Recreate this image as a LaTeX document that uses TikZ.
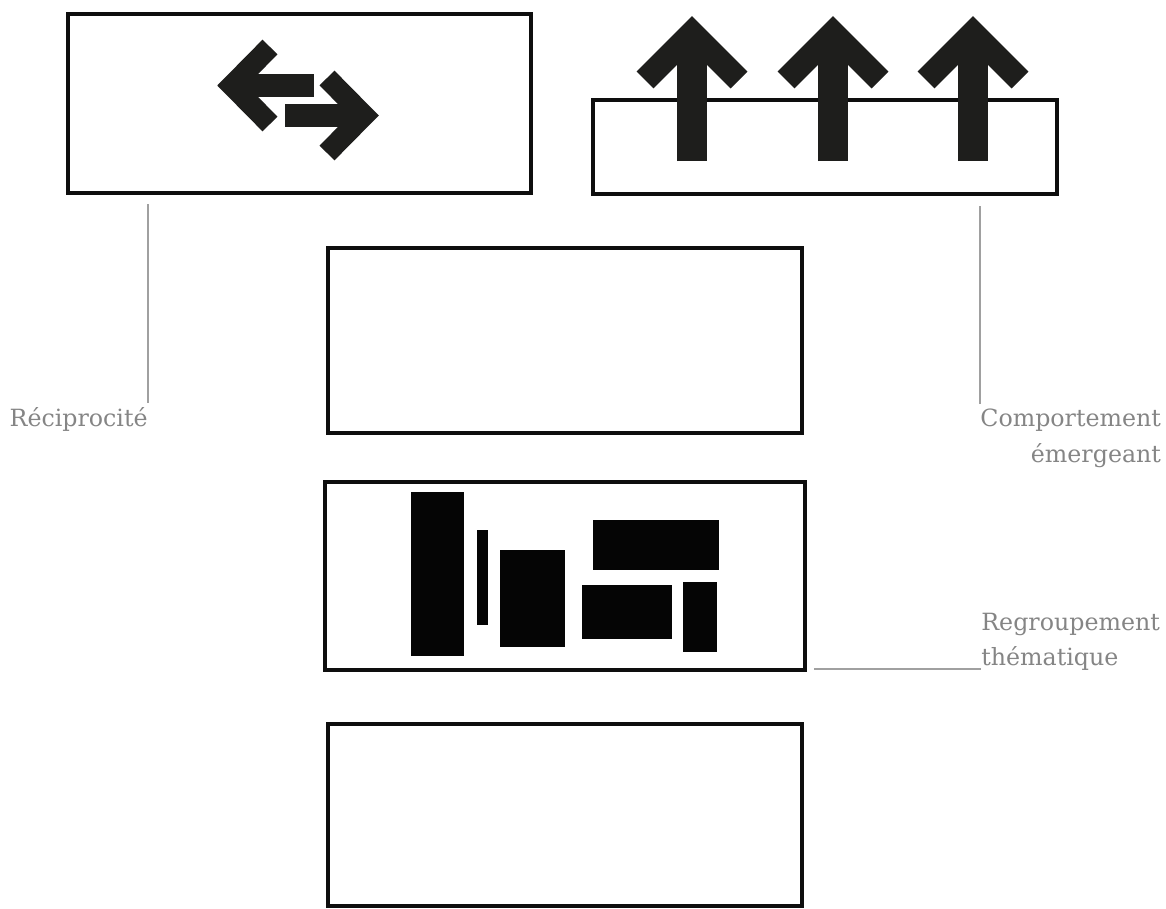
\documentclass[tikz,border=0pt]{standalone}
\usepackage{fontspec}
\setmainfont{DejaVu Serif}
\usepackage{xcolor}
\usepackage{tikz}
\usetikzlibrary{positioning, calc}
\definecolor{pInk}{HTML}{1E1E1C}
\definecolor{pFrame}{HTML}{0E0E0E}
\definecolor{lText}{HTML}{858585}
\definecolor{lLine}{HTML}{A0A0A0}
\def\px{0.569pt}
\tikzset{
  panel/.style={draw=pFrame, line width=3.6*\px, minimum width=9.48cm, minimum height=3.7cm, inner sep=0pt},
  glyph/.style={draw=pInk, line join=miter},
  block/.style={fill=black!98},
  leader/.style={draw=lLine, line width=2*\px},
  tag/.style={font=\fontsize{13.5}{20}\selectfont, text=lText, inner sep=0pt},
}

\begin{document}
\begin{tikzpicture}[x=0.02cm, y=-0.02cm]
  \useasboundingbox (0,0) rectangle (1166,909);
  \node[panel, minimum width=9.26cm, minimum height=3.58cm] (recip) at (299.5,103.5) {};
  \node[panel, minimum width=9.28cm, minimum height=1.88cm] (emerg) at (825,147) {};
  \node[panel] (blankA) at (565,340.5) {};
  \node[panel, minimum width=9.6cm, minimum height=3.76cm] (group) at (565,576) {};
  \node[panel, minimum height=3.64cm] (blankB) at (565,815) {};
  % two-way arrows
  \draw[glyph, line width=23*\px] (245,85.5) -- (314,85.5);
  \draw[glyph, line width=21*\px] (270,47) -- (232,85.5) -- (270,124);
  \draw[glyph, line width=23*\px] (285,115.5) -- (352,115.5);
  \draw[glyph, line width=21*\px] (327,78) -- (364,115.5) -- (327,153);
  % rising arrows
  \foreach \cx in {692,833,973} {
    \draw[glyph, line width=30*\px] (\cx,161) -- (\cx,50);
    \draw[glyph, line width=24*\px] (\cx-47,80) -- (\cx,33) -- (\cx+47,80);
  }
  % grouped blocks
  \fill[block] (411,492) rectangle (464,656);
  \fill[block] (477,530) rectangle (488,625);
  \fill[block] (500,550) rectangle (565,647);
  \fill[block] (593,520) rectangle (719,570);
  \fill[block] (582,585) rectangle (672,639);
  \fill[block] (683,582) rectangle (717,652);
  % labels
  \node[tag, anchor=north east] (lrecip) at (148,407) {Réciprocité};
  \node[tag, align=right, anchor=north west] (lemerg) at (980,409) {Comportement\\émergeant};
  \node[tag, align=left, anchor=south west] (lgroup) at (981,671) {Regroupement\\thématique};
  \draw[leader] ([yshift=0.08cm]lrecip.north east) -- ([yshift=-0.18cm]lrecip.north east |- recip.south);
  \draw[leader] ([yshift=0.1cm]lemerg.north west) -- ([yshift=-0.2cm]lemerg.north west |- emerg.south);
  \coordinate (gStart) at ([xshift=0.14cm, yshift=0.06cm]group.south east);
  \draw[leader] (gStart) -- (gStart -| lgroup.west);
\end{tikzpicture}
\end{document}
